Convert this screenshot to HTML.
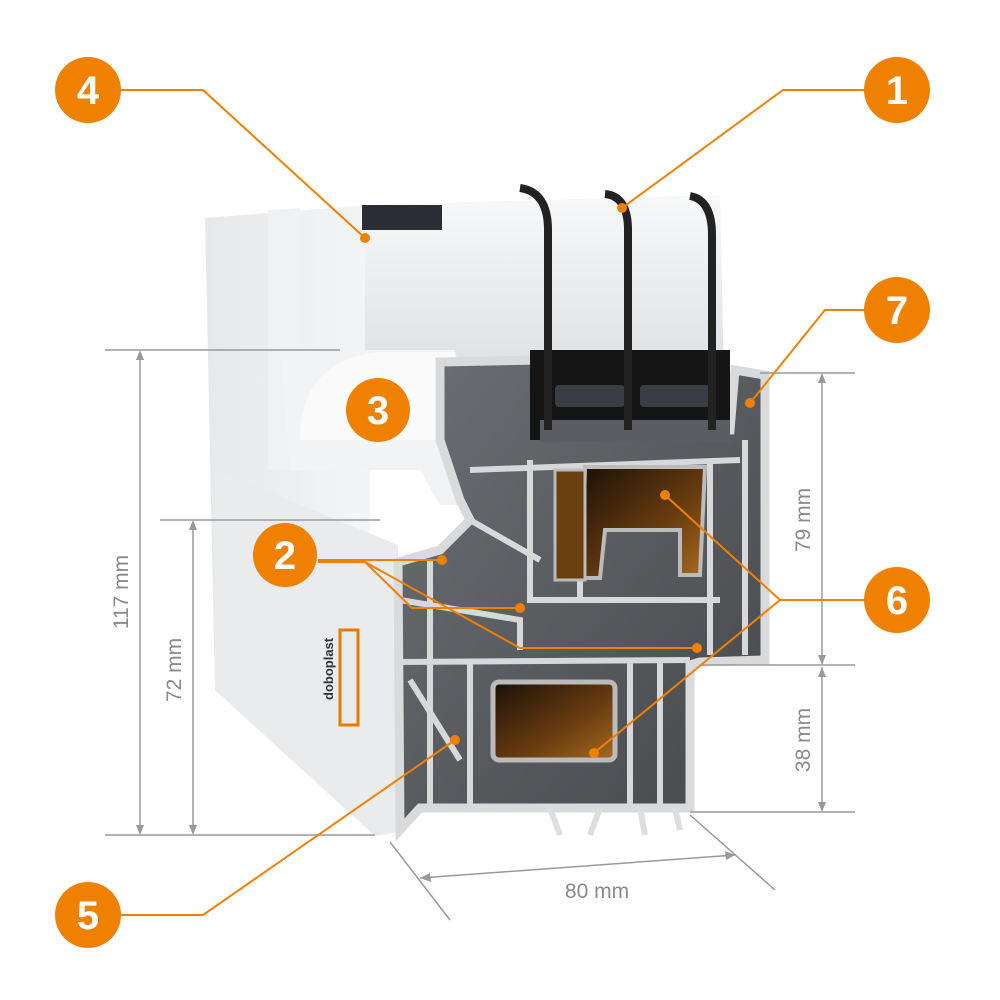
<!DOCTYPE html>
<html><head><meta charset="utf-8"><style>
html,body{margin:0;padding:0;background:#fff;width:1000px;height:1000px;overflow:hidden}
svg{display:block}
text{font-family:"Liberation Sans",sans-serif}
</style></head><body>
<svg width="1000" height="1000" viewBox="0 0 1000 1000">
<defs>
<linearGradient id="wall" x1="0" y1="0" x2="1" y2="0"><stop offset="0" stop-color="#e6e8ea"/><stop offset="1" stop-color="#f6f7f8"/></linearGradient>
<linearGradient id="glass" x1="0" y1="0" x2="0" y2="1"><stop offset="0" stop-color="#f7f8f9"/><stop offset="1" stop-color="#d6d9dc"/></linearGradient>
<linearGradient id="steel" x1="0" y1="0" x2="1" y2="1"><stop offset="0" stop-color="#1a1008"/><stop offset="0.6" stop-color="#6a3d10"/><stop offset="1" stop-color="#a86a20"/></linearGradient>
<linearGradient id="sec" x1="0" y1="0" x2="1" y2="1"><stop offset="0" stop-color="#6c6f73"/><stop offset="1" stop-color="#45474b"/></linearGradient>
</defs>
<polygon points="205,218 370,205 370,548 398,562 398,832 375,836 215,690" fill="url(#wall)"/>
<polygon points="268,210 300,208 300,470 268,470" fill="#f0f1f2"/>
<polygon points="215,470 398,545 398,832 375,836 215,690" fill="#e9ebed"/>
<polygon points="365,205 720,195 725,430 365,430" fill="url(#glass)"/>
<rect x="362" y="205" width="80" height="25" fill="#2a2d33"/>
<path d="M280,350 L455,350 L470,420 L470,505 L440,505 L420,470 L290,470 Z" fill="#f2f3f4"/>
<path d="M300,440 Q300,360 380,352 L455,352 L455,440 Z" fill="#fafafa"/>
<path d="M440,362 L540,360 L540,430 L730,430 L735,370 L765,375 L765,660 L700,662 L690,665 L690,808 L420,808 L400,830 L398,562 L440,550 L470,520 L460,500 L440,440 Z" fill="url(#sec)"/>
<path d="M440,362 L540,360 L540,430 L730,430 L735,370 L765,375 L765,660 L700,662 L690,665 L690,808 L420,808 L400,830 L398,562 L440,550 L470,520 L460,500 L440,440 Z" fill="none" stroke="#d8dadc" stroke-width="9"/>
<g stroke="#d6d8da" stroke-width="6" fill="none">
<path d="M470,470 L740,460 M530,460 L530,600 L720,600 M470,520 L540,560 M400,662 L690,660 M430,560 L430,808 M470,662 L470,808 M630,662 L630,808 M660,662 L660,808 M745,440 L745,655 M710,460 L710,655 M580,600 L580,470 M410,680 L460,760 M400,600 L520,620 L520,650"/>
</g>
<rect x="530" y="350" width="200" height="90" fill="#151515"/>
<rect x="540" y="420" width="190" height="22" fill="#5a5d62"/>
<rect x="555" y="385" width="70" height="22" rx="4" fill="#3a3e44"/>
<rect x="640" y="385" width="70" height="22" rx="4" fill="#3a3e44"/>
<g stroke="#222" stroke-width="8" fill="none">
<path d="M548,430 L548,230 Q548,192 520,188"/>
<path d="M628,430 L628,230 Q628,196 605,194"/>
<path d="M712,430 L712,235 Q712,200 690,196"/>
</g>
<path d="M585,467 L705,467 L700,575 L680,575 L680,530 L605,530 L600,578 L582,578 Z" fill="url(#steel)" stroke="#bbb" stroke-width="4"/>
<rect x="493" y="682" width="122" height="78" rx="6" fill="url(#steel)" stroke="#bbb" stroke-width="5"/>
<rect x="555" y="470" width="30" height="110" fill="#6a4010" stroke="#bbb" stroke-width="3"/>
<g stroke="#dcdee0" stroke-width="6" fill="none"><path d="M550,808 L560,835 M600,808 L590,835 M640,808 L645,835 M675,808 L680,830"/></g>
<rect x="340" y="630" width="18" height="95" fill="none" stroke="#e87a00" stroke-width="3"/>
<text x="333" y="700" font-size="13" fill="#333" transform="rotate(-90 333 700)" font-weight="bold">doboplast</text>

<g stroke="#999" stroke-width="1.5" fill="none">
<path d="M105,350 L340,350 M105,835 L375,835 M160,520 L380,520 M760,373 L855,373 M700,665 L855,665 M690,812 L855,812"/>
<path d="M140,352 L140,833 M193,522 L193,833 M822,375 L822,663 M822,667 L822,810"/>
<path d="M390,842 L450,920 M690,815 L775,890 M420,878 L735,855"/>
</g>
<g fill="#999">
<polygon points="140,350 136,360 144,360"/><polygon points="140,835 136,825 144,825"/>
<polygon points="193,520 189,530 197,530"/><polygon points="193,835 189,825 197,825"/>
<polygon points="822,373 818,383 826,383"/><polygon points="822,665 818,655 826,655"/>
<polygon points="822,667 818,677 826,677"/><polygon points="822,812 818,802 826,802"/>
<polygon points="420,878 430,873 431,882"/><polygon points="735,855 725,851 726,860"/>
</g>
<g fill="#8a8a8a" font-size="21">
<text x="128" y="592" transform="rotate(-90 128 592)" text-anchor="middle">117 mm</text>
<text x="181" y="670" transform="rotate(-90 181 670)" text-anchor="middle">72 mm</text>
<text x="810" y="520" transform="rotate(-90 810 520)" text-anchor="middle">79 mm</text>
<text x="810" y="740" transform="rotate(-90 810 740)" text-anchor="middle">38 mm</text>
<text x="597" y="898" text-anchor="middle">80 mm</text>
</g>

<g stroke="#f08000" stroke-width="2" fill="none">
<path d="M120,90 L203,90 L365,238"/>
<path d="M865,90 L783,90 L622,208"/>
<path d="M865,310 L825,310 L750,403"/>
<path d="M318,560 L442,560 M318,562 L365,562 L412,608 L520,608 M365,562 L520,648 L697,648"/>
<path d="M865,600 L780,600 L665,495 M780,600 L594,753"/>
<path d="M120,915 L203,915 L455,740"/>
</g>
<g fill="#f08000">
<circle cx="365" cy="238" r="5"/><circle cx="622" cy="208" r="5"/><circle cx="750" cy="403" r="5"/>
<circle cx="442" cy="560" r="5"/><circle cx="520" cy="608" r="5"/><circle cx="697" cy="648" r="5"/>
<circle cx="665" cy="495" r="5"/><circle cx="594" cy="753" r="5"/><circle cx="455" cy="740" r="5"/>
<circle cx="88" cy="90" r="33"/><circle cx="897" cy="90" r="33"/><circle cx="897" cy="310" r="33"/>
<circle cx="378" cy="410" r="32"/><circle cx="285" cy="555" r="32"/><circle cx="897" cy="600" r="33"/><circle cx="88" cy="915" r="33"/>
</g>
<g fill="#fff" font-size="40" font-weight="bold" text-anchor="middle">
<text x="88" y="104">4</text><text x="897" y="104">1</text><text x="897" y="324">7</text>
<text x="378" y="424">3</text><text x="285" y="569">2</text><text x="897" y="614">6</text><text x="88" y="929">5</text>
</g>
</svg>
</body></html>
